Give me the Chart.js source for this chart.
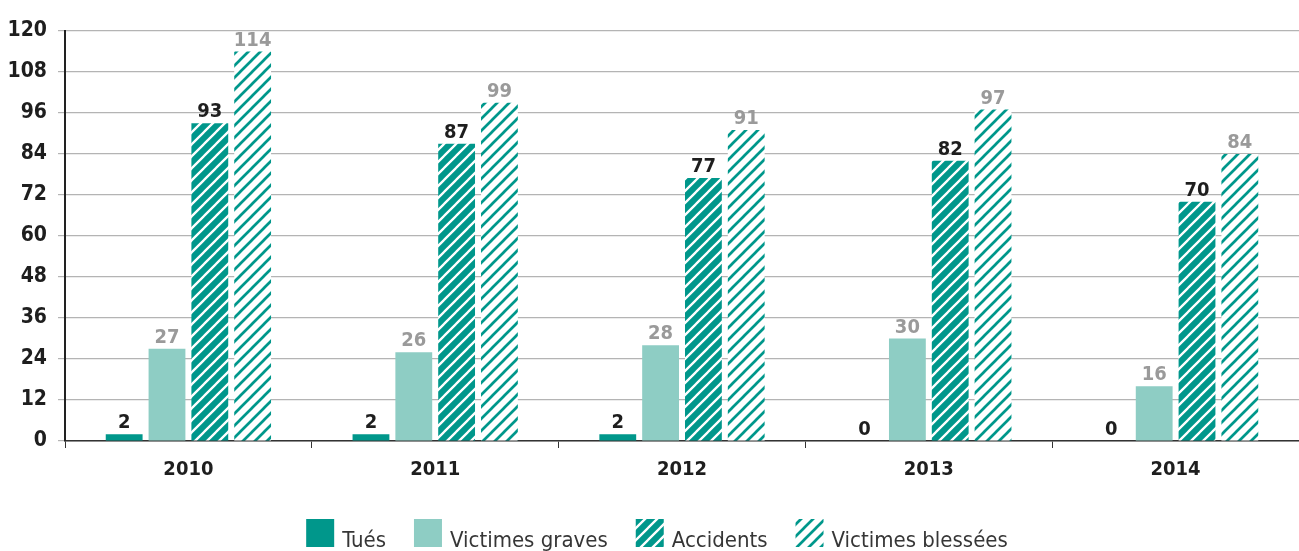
<!DOCTYPE html>
<html>
<head>
<meta charset="utf-8">
<script src="https://cdn.jsdelivr.net/npm/chart.js@4"></script>
<style>
html,body{margin:0;padding:0;background:#fff;}
#wrap{width:1299px;height:551px;}
</style>
</head>
<body>
<div id="wrap"><canvas id="c" width="1299" height="551"></canvas></div>
<script>
const categories = ['2010', '2011', '2012', '2013', '2014'];
const seriesNames = ['Tués', 'Victimes graves', 'Accidents', 'Victimes blessées'];
const tues = [2, 2, 2, 0, 0];
const victimesGraves = [27, 26, 28, 30, 16];
const accidents = [93, 87, 77, 82, 70];
const victimesBlessees = [114, 99, 91, 97, 84];
const yMin = 0, yMax = 120, yStep = 12;

const TEAL = '#00978b';
const LIGHT = '#8ecdc4';
const NUMFONT = '"DejaVu Sans Condensed", "DejaVu Sans", sans-serif';
const TXTFONT = '"DejaVu Sans Condensed", "DejaVu Sans", sans-serif';

function stripes(bg, fg, w) {
  const s = 12;
  const cv = document.createElement('canvas');
  cv.width = s; cv.height = s;
  const g = cv.getContext('2d');
  g.fillStyle = bg; g.fillRect(0, 0, s, s);
  g.strokeStyle = fg; g.lineWidth = w; g.lineCap = 'square';
  g.beginPath();
  for (const k of [-s, 0, s]) { g.moveTo(k, s); g.lineTo(k + s, 0); }
  g.stroke();
  return g.createPattern(cv, 'repeat');
}
const patAcc = stripes(TEAL, '#ffffff', 2.3);
const patBles = stripes('#ffffff', TEAL, 2.7);

const labelColors = ['#1e1e1e', '#9a9a9a', '#1e1e1e', '#9a9a9a'];

const valueLabels = {
  id: 'valueLabels',
  afterDatasetsDraw(chart) {
    const ctx = chart.ctx;
    ctx.save();
    ctx.font = 'bold 20px ' + NUMFONT;
    ctx.textAlign = 'center';
    ctx.textBaseline = 'alphabetic';
    chart.data.datasets.forEach((ds, i) => {
      const meta = chart.getDatasetMeta(i);
      meta.data.forEach((el, j) => {
        ctx.fillStyle = labelColors[i];
        ctx.fillText(String(ds.data[j]), el.x, el.y - 6);
      });
    });
    ctx.restore();
  }
};

const customLegend = {
  id: 'customLegend',
  afterDraw(chart) {
    const ctx = chart.ctx;
    ctx.save();
    ctx.font = '22px ' + TXTFONT;
    const box = 28, gapText = 8, gapItem = 28;
    const items = chart.data.datasets.map(ds => ({ fill: ds.backgroundColor, text: ds.label, w: ctx.measureText(ds.label).width }));
    const total = items.reduce((a, it) => a + box + gapText + it.w, 0) + gapItem * (items.length - 1);
    let x = 657 - total / 2;
    const top = 519;
    items.forEach(it => {
      ctx.fillStyle = it.fill;
      ctx.fillRect(x, top, box, box);
      ctx.fillStyle = '#363636';
      ctx.textAlign = 'left';
      ctx.textBaseline = 'alphabetic';
      ctx.fillText(it.text, x + box + gapText, 547);
      x += box + gapText + it.w + gapItem;
    });
    ctx.restore();
  }
};

new Chart(document.getElementById('c'), {
  type: 'bar',
  data: {
    labels: categories,
    datasets: [
      { label: seriesNames[0], data: tues, backgroundColor: TEAL },
      { label: seriesNames[1], data: victimesGraves, backgroundColor: LIGHT },
      { label: seriesNames[2], data: accidents, backgroundColor: patAcc },
      { label: seriesNames[3], data: victimesBlessees, backgroundColor: patBles }
    ]
  },
  options: {
    responsive: false,
    animation: false,
    devicePixelRatio: 1,
    datasets: { bar: { categoryPercentage: 0.694, barPercentage: 0.86, borderWidth: 0 } },
    layout: { padding: { top: 31, right: 0, left: 0, bottom: 47 } },
    plugins: {
      tooltip: { enabled: false },
      legend: { display: false }
    },
    scales: {
      x: {
        afterFit(scale) { scale.height = 63; },
        grid: { offset: true, drawOnChartArea: false, color: '#333333', tickLength: 7 },
        border: { color: '#333333', width: 1.5 },
        ticks: { color: '#1e1e1e', font: { family: NUMFONT, size: 20, weight: 'bold' }, padding: 10 }
      },
      y: {
        min: yMin, max: yMax,
        afterFit(scale) { scale.width = 65; },
        grid: { color: '#b4b4b4', lineWidth: 1.2, tickLength: 7 },
        border: { color: '#222222', width: 2 },
        ticks: { stepSize: yStep, color: '#1e1e1e', font: { family: NUMFONT, size: 21, weight: 'bold' }, padding: 11 }
      }
    }
  },
  plugins: [valueLabels, customLegend]
});
</script>
</body>
</html>
